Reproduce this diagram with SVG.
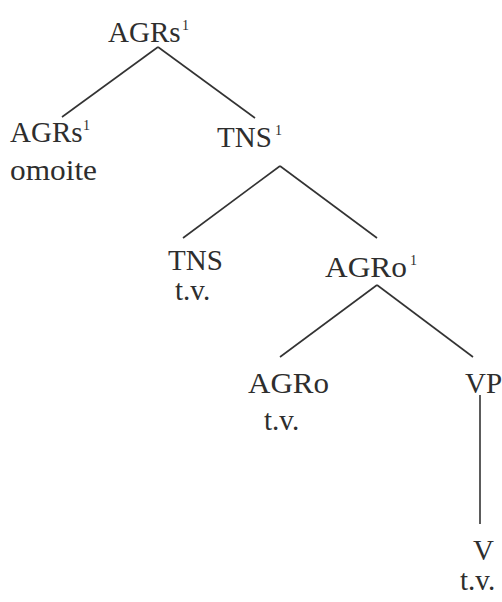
<svg xmlns="http://www.w3.org/2000/svg" width="502" height="602" viewBox="0 0 502 602">
<style>
text{font-family:"Liberation Serif","Times New Roman",serif;font-size:29px;fill:#2e2e2e}
.sup{font-size:14px}
.e{stroke:#333;stroke-width:1.6;fill:none}
</style>
<rect width="502" height="602" fill="#ffffff"/>
<g id="connectors">
<line class="e" x1="158" y1="47" x2="62" y2="117"/>
<line class="e" x1="158" y1="47" x2="255" y2="118"/>
<line class="e" x1="280" y1="166" x2="183" y2="238"/>
<line class="e" x1="280" y1="166" x2="377" y2="238"/>
<line class="e" x1="377" y1="285" x2="280" y2="357"/>
<line class="e" x1="377" y1="285" x2="473" y2="357"/>
<line class="e" x1="480" y1="395" x2="480" y2="524"/>
</g>
<g id="n_agrs_top"><text x="108" y="42">AGRs<tspan class="sup" x="182" y="30">1</tspan></text></g>
<g id="n_agrs_left"><text x="10" y="142">AGRs<tspan class="sup" x="83" y="130">1</tspan></text><text x="10" y="180" textLength="87" lengthAdjust="spacingAndGlyphs">omoite</text></g>
<g id="n_tns1"><text x="217" y="147">TNS<tspan class="sup" x="275" y="135">1</tspan></text></g>
<g id="n_tns"><text x="168" y="270">TNS</text><text x="175" y="300">t.v.</text></g>
<g id="n_agro1"><text x="325" y="277" textLength="82" lengthAdjust="spacingAndGlyphs">AGRo</text><text class="sup" x="410" y="265">1</text></g>
<g id="n_agro"><text x="248" y="393" textLength="81" lengthAdjust="spacingAndGlyphs">AGRo</text><text x="264" y="430">t.v.</text></g>
<g id="n_vp"><text x="465" y="393">VP</text></g>
<g id="n_v"><text x="473" y="560">V</text><text x="460" y="590">t.v.</text></g>
</svg>
